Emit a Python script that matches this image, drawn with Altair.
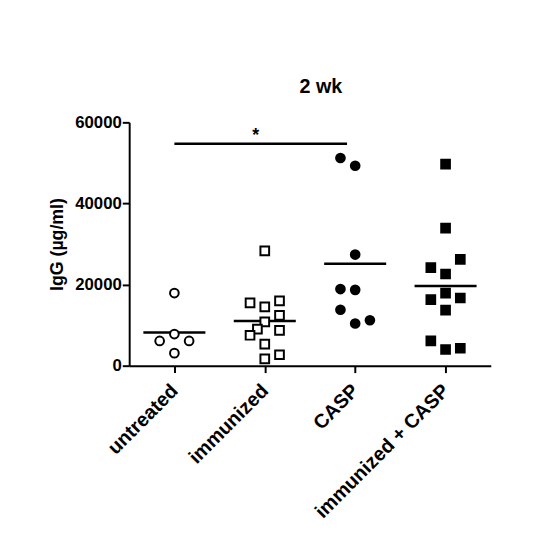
import json
import altair as alt
import pandas as pd

groups = ["untreated", "immunized", "CASP", "immunized + CASP"]
shapes = ["circle", "square", "circle", "square"]
fills = ["white", "white", "black", "black"]

# IgG (µg/ml) values per group and their column within the scatter
untreated_vals = [17900, 7800, 6100, 6100, 3100]
untreated_cols = [0, 0, -1, 1, 0]
immunized_vals = [28300, 15500, 14500, 16000, 12400, 10800, 9000, 7500, 8700, 5300, 1700, 2700]
immunized_cols = [0, -1, 0, 1, 1, 0, -0.5, -1, 1, 0, 0, 1]
casp_vals = [51200, 49300, 27400, 18900, 18700, 13800, 10400, 11200]
casp_cols = [-1, 0, 0, -1, 0, -1, 0, 1]
imcasp_vals = [49700, 33900, 26200, 24200, 22600, 17900, 16700, 16300, 13700, 6100, 4000, 4300]
imcasp_cols = [0, 0, 1, -1, 0, 0, 1, -1, 0, -1, 0, 1]

# significance bracket
sig_start = [0]
sig_end = [1.91]
sig_level = [54700]
sig_label = ["*"]
sig_label_x = [0.9]
sig_label_y = [55300]

col_step = 0.163

rows = []
for gi, (vals, cols) in enumerate(
    [(untreated_vals, untreated_cols), (immunized_vals, immunized_cols),
     (casp_vals, casp_cols), (imcasp_vals, imcasp_cols)]):
    for v, c in zip(vals, cols):
        rows.append({"group": groups[gi], "idx": gi, "xpos": gi + c * col_step, "igg": v})
df = pd.DataFrame(rows)

sig_df = pd.DataFrame({"x": sig_start, "x2": sig_end, "y": sig_level,
                       "lx": sig_label_x, "ly": sig_label_y, "label": sig_label})

font = "Liberation Sans"
label_expr = json.dumps(groups) + "[datum.value]"

xscale = alt.Scale(domain=[-0.5, 3.5], nice=False, zero=False)
yscale = alt.Scale(domain=[0, 60000], nice=False)

xaxis = alt.Axis(values=[0, 1, 2, 3], labelExpr=label_expr, labelAngle=315,
                 labelAlign="right", labelBaseline="middle", labelPadding=15,
                 labelFontSize=20, labelFontWeight="bold", labelFont=font,
                 labelOverlap=False, labelBound=False, labelFlush=False, labelLimit=400,
                 title=None, grid=False, tickSize=7)
yaxis = alt.Axis(values=[0, 20000, 40000, 60000], format="d",
                 labelFontSize=17, labelFontWeight="bold", labelFont=font,
                 labelPadding=1, labelOverlap=False,
                 title="IgG (µg/ml)", titleFontSize=18, titleFont=font,
                 titleFontWeight="bold", titlePadding=8, grid=False, tickSize=7)

points = alt.Chart(df).mark_point(strokeWidth=2, opacity=1, size=78, stroke="black").encode(
    x=alt.X("xpos:Q", scale=xscale, axis=xaxis),
    y=alt.Y("igg:Q", scale=yscale, axis=yaxis),
    shape=alt.Shape("group:N", scale=alt.Scale(domain=groups, range=shapes), legend=None),
    fill=alt.Fill("group:N", scale=alt.Scale(domain=groups, range=fills), legend=None),
)

means = alt.Chart(df).transform_aggregate(
    mean_igg="mean(igg)", groupby=["idx"]
).transform_calculate(
    x1="datum.idx - 0.343", x2="datum.idx + 0.343"
).mark_rule(color="black", strokeWidth=2.5).encode(
    x=alt.X("x1:Q", scale=xscale, axis=xaxis),
    x2="x2:Q",
    y=alt.Y("mean_igg:Q", scale=yscale, axis=yaxis),
)

sig_line = alt.Chart(sig_df).mark_rule(color="black", strokeWidth=2.5).encode(
    x=alt.X("x:Q", scale=xscale, axis=xaxis), x2="x2:Q",
    y=alt.Y("y:Q", scale=yscale, axis=yaxis),
)
sig_text = alt.Chart(sig_df).mark_text(font=font, fontSize=18, fontWeight="bold",
                                       baseline="alphabetic", color="black").encode(
    x=alt.X("lx:Q", scale=xscale, axis=xaxis),
    y=alt.Y("ly:Q", scale=yscale, axis=yaxis),
    text="label:N",
)

chart = alt.layer(sig_line, sig_text, means, points).properties(
    width=367, height=247,
    title=alt.TitleParams("2 wk", font=font, fontSize=20, fontWeight="bold",
                          anchor="middle", offset=17, dx=11),
    autosize=alt.AutoSizeParams(type="none"),
    padding={"left": 123, "top": 112, "right": 52, "bottom": 183},
).configure_view(stroke=None).configure_axis(
    domainColor="black", domainWidth=2, tickColor="black", tickWidth=2,
    labelColor="black", titleColor="black",
)

chart.save("out.html", embed_options={"renderer": "svg", "actions": False})
